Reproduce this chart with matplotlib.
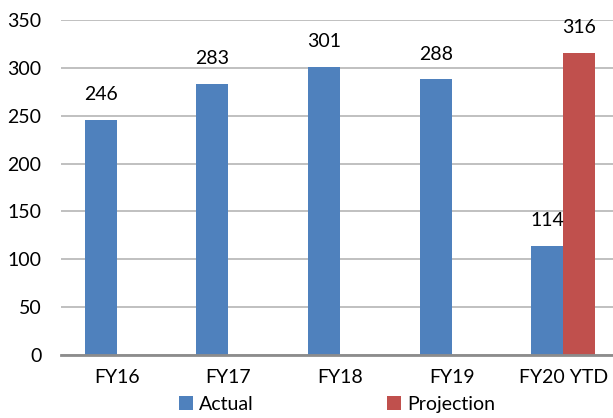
import numpy as np
import matplotlib.pyplot as plt

categories = ["FY16", "FY17", "FY18", "FY19", "FY20 YTD"]
actual = [246, 283, 301, 288, 114]
projection = [np.nan, np.nan, np.nan, np.nan, 316]
y_ticks = [0, 50, 100, 150, 200, 250, 300, 350]

plt.rcParams["font.family"] = ["Lato", "DejaVu Sans"]

fig = plt.figure(figsize=(6.13, 4.18), dpi=100)
ax = fig.add_axes([61 / 613, 1 - 355 / 418, 558 / 613, 335 / 418])

x = np.arange(len(categories))
w = 0.286
b1 = ax.bar(x - w / 2, actual, w, color="#4F81BD", label="Actual", zorder=3)
b2 = ax.bar(x + w / 2, projection, w, color="#C0504D", label="Projection", zorder=3)

for bars, vals in [(b1, actual), (b2, projection)]:
    for rect, v in zip(bars, vals):
        if np.isnan(v):
            continue
        ax.annotate(f"{v:.0f}", (rect.get_x() + rect.get_width() / 2, v),
                    xytext=(0, 12), textcoords="offset points",
                    ha="center", va="bottom", fontsize=14)

ax.set_xlim(-0.5, len(categories) - 0.5)
ax.set_ylim(0, 350)
ax.set_yticks(y_ticks)
ax.set_xticks(x)
ax.set_xticklabels(categories)
ax.tick_params(axis="both", length=0, labelsize=14)
ax.tick_params(axis="y", pad=14)
ax.tick_params(axis="x", pad=10)
ax.yaxis.grid(True, color="#B5B5B5", linewidth=1.2, zorder=0)
for side in ["top", "right", "left"]:
    ax.spines[side].set_visible(False)
ax.spines["bottom"].set_color("#8C8C8C")
ax.spines["bottom"].set_linewidth(2)
ax.spines["bottom"].set_zorder(4)

fig.legend(loc="lower center", bbox_to_anchor=(337 / 613, -0.03), ncol=2,
           frameon=False, fontsize=14, handlelength=0.7, handleheight=0.7,
           handletextpad=0.3, columnspacing=6.9)

fig.savefig("out.png", dpi=100)
